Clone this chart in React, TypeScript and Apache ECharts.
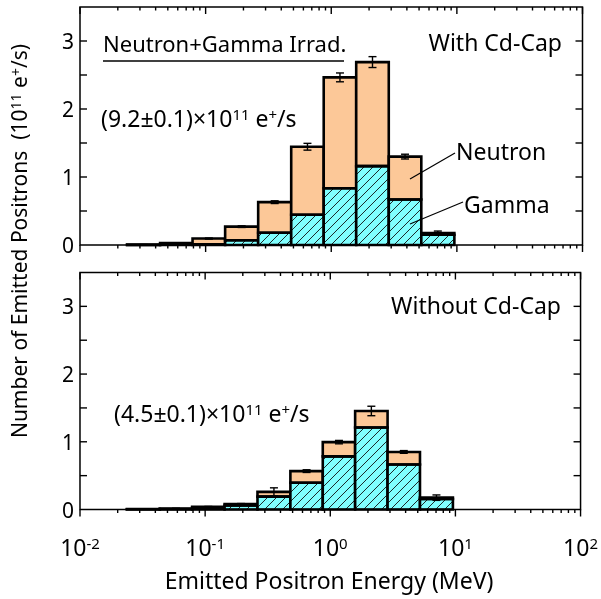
import { useEffect, useRef } from 'react';
import * as echarts from 'echarts';

// Histogram bin edges (MeV), log-spaced
const binEdges = [0.0237, 0.0434, 0.0787, 0.143, 0.262, 0.48, 0.871, 1.58, 2.87, 5.21, 9.55];

// With Cd-Cap (10^11 e+/s per bin)
const gammaWithCap = [0.002, 0.005, 0.01, 0.07, 0.18, 0.445, 0.835, 1.16, 0.67, 0.15];
const neutronWithCap = [0.003, 0.025, 0.085, 0.2, 0.45, 1.0, 1.63, 1.53, 0.63, 0.025];
const errorWithCap = [0.002, 0.004, 0.008, 0.012, 0.02, 0.05, 0.065, 0.08, 0.035, 0.03];

// Without Cd-Cap
const gammaNoCap = [0.003, 0.008, 0.025, 0.06, 0.19, 0.395, 0.785, 1.21, 0.665, 0.155];
const neutronNoCap = [0.002, 0.007, 0.015, 0.02, 0.07, 0.172, 0.21, 0.245, 0.185, 0.02];
const errorNoCap = [0.002, 0.003, 0.005, 0.008, 0.06, 0.02, 0.025, 0.07, 0.02, 0.04];

const xMin = 0.01;
const xMax = 100;
const yMax = 3.5;
const yTickValues = [0.5, 1, 1.5, 2, 2.5, 3];
const decades = [0.01, 0.1, 1, 10, 100];

const FONT = '"Noto Sans", "Open Sans", sans-serif';
const NEUTRON_FILL = '#FCC898';
const GAMMA_FILL = '#80FFFF';

function binRows(gamma: number[], neutron: number[], err: number[]) {
  return gamma.map((g, i) => [binEdges[i], binEdges[i + 1], g, neutron[i], err[i]]);
}

function renderBin(_params: any, api: any) {
  const x0 = api.value(0);
  const x1 = api.value(1);
  const g = api.value(2);
  const n = api.value(3);
  const e = api.value(4);
  const base = api.coord([x0, 0]);
  const gTop = api.coord([x1, g]);
  const nTop = api.coord([x1, g + n]);
  const L = base[0];
  const R = gTop[0];
  const B = base[1];
  const GT = gTop[1];
  const NT = nTop[1];
  const children: any[] = [];
  children.push({ type: 'rect', shape: { x: L, y: NT, width: R - L, height: GT - NT }, style: { fill: NEUTRON_FILL } });
  children.push({ type: 'rect', shape: { x: L, y: GT, width: R - L, height: B - GT }, style: { fill: GAMMA_FILL } });
  // diagonal hatching of the gamma part
  const step = 9;
  for (let c = Math.ceil((L + GT) / step) * step; c <= R + B; c += step) {
    const xa = Math.max(L, c - B);
    const xb = Math.min(R, c - GT);
    if (xb - xa > 0.6) {
      children.push({ type: 'line', shape: { x1: xa, y1: c - xa, x2: xb, y2: c - xb }, style: { stroke: '#111', lineWidth: 0.9 } });
    }
  }
  const outline = { fill: 'none', stroke: '#000', lineWidth: 2.6 };
  children.push({ type: 'rect', shape: { x: L, y: GT, width: R - L, height: B - GT }, style: outline });
  children.push({ type: 'rect', shape: { x: L, y: NT, width: R - L, height: GT - NT }, style: outline });
  // error bar at the top of the stack
  const hi = api.coord([x0, g + n + e])[1];
  const lo = api.coord([x0, g + n - e])[1];
  const mx = (L + R) / 2;
  const eb = { stroke: '#000', lineWidth: 1.4 };
  children.push({ type: 'line', shape: { x1: mx, y1: hi, x2: mx, y2: lo }, style: eb });
  children.push({ type: 'line', shape: { x1: mx - 4, y1: hi, x2: mx + 4, y2: hi }, style: eb });
  children.push({ type: 'line', shape: { x1: mx - 4, y1: lo, x2: mx + 4, y2: lo }, style: eb });
  return { type: 'group', children };
}

function renderFrame(_params: any, api: any) {
  const bl = api.coord([xMin, 0]);
  const tr = api.coord([xMax, yMax]);
  const L = bl[0];
  const B = bl[1];
  const R = tr[0];
  const T = tr[1];
  const st = { stroke: '#000', lineWidth: 1.4 };
  const children: any[] = [];
  // x ticks: decades and 2..9 minors
  const xt: [number, number][] = [];
  decades.forEach((d) => xt.push([d, 7]));
  for (let k = 0; k < decades.length - 1; k++) {
    for (let m = 2; m <= 9; m++) xt.push([decades[k] * m, 3.5]);
  }
  xt.forEach(([v, len]) => {
    const x = api.coord([v, 0])[0];
    children.push({ type: 'line', shape: { x1: x, y1: B, x2: x, y2: B + len }, style: st });
    children.push({ type: 'line', shape: { x1: x, y1: T, x2: x, y2: T + len }, style: st });
  });
  yTickValues.forEach((v) => {
    const y = api.coord([xMin, v])[1];
    children.push({ type: 'line', shape: { x1: L, y1: y, x2: L + 7, y2: y }, style: st });
    children.push({ type: 'line', shape: { x1: R, y1: y, x2: R - 7, y2: y }, style: st });
  });
  children.push({ type: 'rect', shape: { x: L, y: T, width: R - L, height: B - T }, style: { fill: 'none', stroke: '#000', lineWidth: 1.5 } });
  return { type: 'group', children };
}

function textEl(text: string, x: number, y: number, align: string = 'left', size: number = 23) {
  return {
    type: 'text',
    x,
    y,
    z: 10,
    style: {
      text,
      fill: '#000',
      fontSize: size,
      fontFamily: FONT,
      align,
      verticalAlign: 'middle',
      rich: { s: { fontSize: 15, fontFamily: FONT, verticalAlign: 'top', fill: '#000' } },
    },
  };
}

export default function App() {
  const ref = useRef<HTMLDivElement>(null);
  useEffect(() => {
    if (!ref.current) return;
    const chart = echarts.init(ref.current, null, { renderer: 'svg' });
    const xAxisBase = {
      type: 'log',
      logBase: 10,
      min: xMin,
      max: xMax,
      splitLine: { show: false },
      axisTick: { show: false },
      axisLine: { show: false },
      minorTick: { show: false },
    };
    const yAxisBase = {
      type: 'value',
      min: 0,
      max: yMax,
      interval: 0.5,
      splitLine: { show: false },
      axisTick: { show: false },
      axisLine: { show: false },
      axisLabel: {
        color: '#000',
        fontSize: 21,
        fontFamily: FONT,
        margin: 6,
        formatter: (v: number) => (Number.isInteger(v) && v <= 3 ? String(v) : ''),
      },
    };
    chart.setOption({
      animation: false,
      grid: [
        { left: 80, right: 18.5, top: 7, height: 238 },
        { left: 80, right: 18.5, top: 272.5, height: 237 },
      ],
      xAxis: [
        { ...xAxisBase, gridIndex: 0, axisLabel: { show: false } },
        {
          ...xAxisBase,
          gridIndex: 1,
          axisLabel: {
            show: true,
            margin: 26,
            color: '#000',
            showMinLabel: true,
            showMaxLabel: true,
            formatter: (v: number) => `{b|10}{s|${Math.round(Math.log10(v))}}`,
            rich: {
              b: { fontSize: 23, fontFamily: FONT, color: '#000' },
              s: { fontSize: 15, fontFamily: FONT, color: '#000', verticalAlign: 'top' },
            },
          },
        },
      ],
      yAxis: [
        { ...yAxisBase, gridIndex: 0 },
        { ...yAxisBase, gridIndex: 1 },
      ],
      series: [
        {
          type: 'custom',
          name: 'With Cd-Cap',
          xAxisIndex: 0,
          yAxisIndex: 0,
          renderItem: renderBin,
          encode: { x: [0, 1], y: [2, 3] },
          data: binRows(gammaWithCap, neutronWithCap, errorWithCap),
          z: 2,
        },
        {
          type: 'custom',
          name: 'Without Cd-Cap',
          xAxisIndex: 1,
          yAxisIndex: 1,
          renderItem: renderBin,
          encode: { x: [0, 1], y: [2, 3] },
          data: binRows(gammaNoCap, neutronNoCap, errorNoCap),
          z: 2,
        },
        {
          type: 'custom',
          xAxisIndex: 0,
          yAxisIndex: 0,
          renderItem: renderFrame,
          data: [[1, 1]],
          silent: true,
          z: 3,
        },
        {
          type: 'custom',
          xAxisIndex: 1,
          yAxisIndex: 1,
          renderItem: renderFrame,
          data: [[1, 1]],
          silent: true,
          z: 3,
        },
      ],
      graphic: [
        textEl('Neutron+Gamma Irrad.', 103, 43, 'left', 22),
        { type: 'line', z: 10, shape: { x1: 103, y1: 61, x2: 344, y2: 61 }, style: { stroke: '#000', lineWidth: 1.5 } },
        textEl('With Cd-Cap', 562, 42, 'right'),
        textEl('(9.2±0.1)×10{s|11} e{s|+}/s', 101, 118),
        textEl('Neutron', 456, 151),
        textEl('Gamma', 464, 204),
        { type: 'line', z: 10, shape: { x1: 410, y1: 179, x2: 455, y2: 153 }, style: { stroke: '#000', lineWidth: 1.2 } },
        { type: 'line', z: 10, shape: { x1: 410, y1: 224, x2: 463, y2: 202 }, style: { stroke: '#000', lineWidth: 1.2 } },
        textEl('Without Cd-Cap', 561, 305, 'right'),
        textEl('(4.5±0.1)×10{s|11} e{s|+}/s', 114, 413),
        textEl('Emitted Positron Energy (MeV)', 329, 580, 'center', 23),
        {
          type: 'text',
          x: 19,
          y: 241,
          rotation: Math.PI / 2,
          z: 10,
          style: {
            text: 'Number of Emitted Positrons  (10{s|11} e{s|+}/s)',
            fill: '#000',
            fontSize: 21,
            fontFamily: FONT,
            align: 'center',
            verticalAlign: 'middle',
            rich: { s: { fontSize: 14, fontFamily: FONT, verticalAlign: 'top', fill: '#000' } },
          },
        },
      ],
    });
    return () => chart.dispose();
  }, []);
  return <div ref={ref} style={{ position: 'fixed', left: 0, top: 0, width: 601, height: 599 }} />;
}
